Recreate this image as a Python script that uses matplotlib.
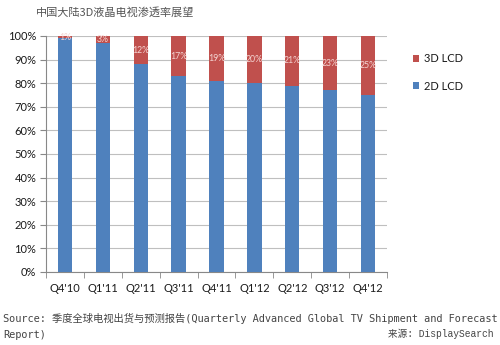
import matplotlib
matplotlib.use("Agg")
import matplotlib.pyplot as plt
from matplotlib.ticker import FixedLocator, FuncFormatter
import numpy as np

plt.rcParams['font.family'] = ['Lato', 'Noto Sans CJK SC']

quarters = ["Q4'10", "Q1'11", "Q2'11", "Q3'11", "Q4'11", "Q1'12", "Q2'12", "Q3'12", "Q4'12"]
share_3d = [1, 3, 12, 17, 19, 20, 21, 23, 25]
share_2d = [100 - v for v in share_3d]

blue = '#4F81BD'
red = '#C0504D'

fig = plt.figure(figsize=(5, 3.45), dpi=100)
ax = fig.add_axes([0.092, 0.2116, 0.682, 0.6841])

x = np.arange(len(quarters))
w = 0.38
ax.bar(x, share_2d, w, color=blue, label='2D LCD', zorder=3)
ax.bar(x, share_3d, w, bottom=share_2d, color=red, label='3D LCD', zorder=3)

for xi, b, v in zip(x, share_2d, share_3d):
    ax.text(xi, b + v / 2, f'{v}%', ha='center', va='center', fontsize=6.3,
            color='#F4D4D2', zorder=4)

ax.set_xlim(-0.5, len(quarters) - 0.5)
ax.set_ylim(0, 100)
ax.yaxis.set_major_locator(FixedLocator(np.arange(0, 101, 10)))
ax.yaxis.set_major_formatter(FuncFormatter(lambda v, p: f'{int(v)}%'))
ax.set_xticks(x)
ax.set_xticklabels(quarters)
ax.xaxis.set_minor_locator(FixedLocator(np.arange(-0.5, len(quarters), 1)))
ax.tick_params(axis='x', which='major', length=0, pad=8, labelsize=8, colors='#1a1a1a')
ax.tick_params(axis='x', which='minor', length=4, color='#888888')
ax.tick_params(axis='y', length=4, color='#888888', labelsize=8, labelcolor='#1a1a1a', pad=3)
ax.grid(axis='y', color='#BFBFBF', linewidth=0.8, zorder=0)
for s in ['top', 'right']:
    ax.spines[s].set_visible(False)
for s in ['left', 'bottom']:
    ax.spines[s].set_color('#888888')
    ax.spines[s].set_linewidth(0.8)

handles, labels = ax.get_legend_handles_labels()
fig.legend(handles[::-1], labels[::-1], loc='upper left', bbox_to_anchor=(0.805, 0.875),
           frameon=False, fontsize=8, handlelength=0.6, handleheight=0.6,
           handletextpad=0.45, labelspacing=1.5, labelcolor='#1a1a1a')

fig.text(0.072, 0.965, '中国大陆3D液晶电视渗透率展望', fontsize=8, color='#555555', va='center',
         family=['Noto Sans CJK SC', 'DejaVu Sans'])
mono = ['DejaVu Sans Mono', 'Noto Sans CJK SC']
fig.text(0.006, 0.078, 'Source: 季度全球电视出货与预测报告(Quarterly Advanced Global TV Shipment and Forecast',
         fontsize=7.4, color='#444444', va='center', family=mono)
fig.text(0.006, 0.03, 'Report)', fontsize=7.4, color='#444444', va='center', family=mono)
fig.text(0.987, 0.032, '来源: DisplaySearch', fontsize=6.9, color='#444444', va='center', ha='right',
         family=['Liberation Mono', 'Noto Sans CJK SC'])

fig.savefig('out.png', dpi=100)
